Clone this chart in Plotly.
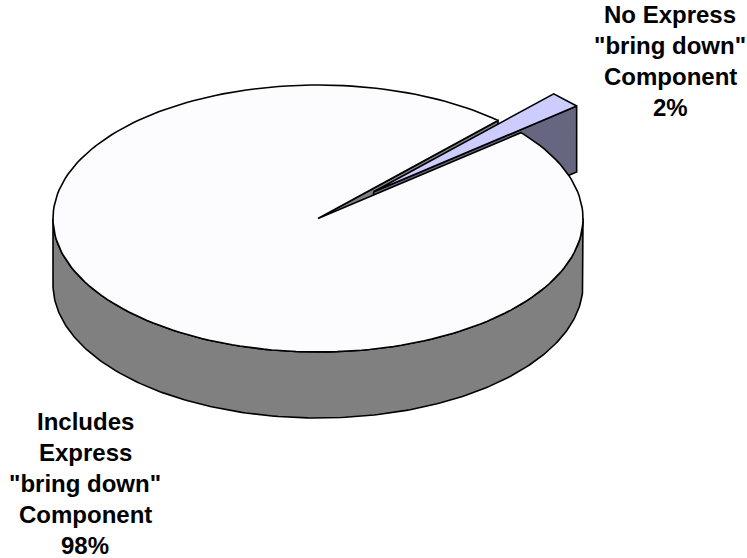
import numpy as np
import plotly.graph_objects as go

# ---- data ----
label_lines = [
    ["Includes", "Express", "\"bring down\"", "Component"],
    ["No Express", "\"bring down\"", "Component"],
]
values = [98, 2]
pct_text = ["98%", "2%"]
top_colors = ["#FCFCFF", "#CCCCFF"]
side_colors = ["#808080", "#666680"]
explode = [0.0, 0.29]

# ---- layout / geometry ----
W, H = 747, 558
CX, CY, RX, RY, DEPTH = 318, 218.5, 265, 133.5, 66
START = 47.2  # degrees, counterclockwise start of first slice

total = float(sum(values))
bounds = []
a = START
for v in values:
    b = a + 360.0 * v / total
    bounds.append((a, b))
    a = b


def offset(i):
    a0, a1 = bounds[i]
    m = np.radians((a0 + a1) / 2)
    return explode[i] * np.cos(m), explode[i] * np.sin(m)


def proj(ang_deg, r, h, off):
    t = np.radians(ang_deg)
    x = CX + RX * (r * np.cos(t) + off[0])
    y = CY - RY * (r * np.sin(t) + off[1]) + h * DEPTH
    return x, y


def arc(a0, a1, h, off, n=200):
    angs = np.linspace(a0, a1, n)
    xs, ys = proj(angs, 1.0, h, off)
    return list(xs), list(ys)


fig = go.Figure()


def poly(xs, ys, color):
    fig.add_trace(go.Scatter(
        x=xs + [xs[0]], y=ys + [ys[0]], mode="lines", fill="toself",
        fillcolor=color, line=dict(color="black", width=1.6),
        hoverinfo="skip", showlegend=False))


def top_face(i):
    off = offset(i)
    a0, a1 = bounds[i]
    cx, cy = proj(0, 0, 0, off)
    xs, ys = arc(a0, a1, 0, off)
    poly([float(cx)] + xs, [float(cy)] + ys, top_colors[i])


def outer_wall(i):
    off = offset(i)
    a0, a1 = bounds[i]
    # visible front part: angles in [180, 360] (mod 360)
    for k in (-360, 0, 360):
        lo, hi = max(a0, 180 + k), min(a1, 360 + k)
        if hi > lo:
            xt, yt = arc(lo, hi, 0, off)
            xb, yb = arc(lo, hi, 1, off)
            poly(xt + xb[::-1], yt + yb[::-1], side_colors[i])


def cut_face(i, ang):
    off = offset(i)
    c_t = proj(0, 0, 0, off)
    e_t = proj(ang, 1, 0, off)
    e_b = proj(ang, 1, 1, off)
    c_b = proj(0, 0, 1, off)
    pts = [c_t, e_t, e_b, c_b]
    poly([float(p[0]) for p in pts], [float(p[1]) for p in pts], side_colors[i])


# painter's order
outer_wall(0)
cut_face(0, bounds[0][0])
cut_face(1, bounds[1][0])
top_face(1)
top_face(0)

# ---- labels ----
FONT = dict(family="Liberation Sans, Arial, sans-serif", size=24, color="black")
LINE = 31
left_lines = label_lines[0] + [pct_text[0]]
for k, t in enumerate(left_lines):
    fig.add_annotation(x=85, y=421.5 + k * LINE, text="<b>%s</b>" % t, showarrow=False,
                       xanchor="center", yanchor="middle", font=FONT)
right_lines = label_lines[1] + [pct_text[1]]
for k, t in enumerate(right_lines):
    fig.add_annotation(x=670, y=14.5 + k * LINE, text="<b>%s</b>" % t, showarrow=False,
                       xanchor="center", yanchor="middle", font=FONT)

fig.update_layout(
    width=W, height=H, margin=dict(l=0, r=0, t=0, b=0),
    paper_bgcolor="white", plot_bgcolor="white", showlegend=False,
    xaxis=dict(range=[0, W], visible=False, fixedrange=True),
    yaxis=dict(range=[H, 0], visible=False, fixedrange=True),
)
fig.write_html("out.html", config={"displayModeBar": False},
               post_script="document.body.style.margin='0';document.body.style.overflow='hidden';")
